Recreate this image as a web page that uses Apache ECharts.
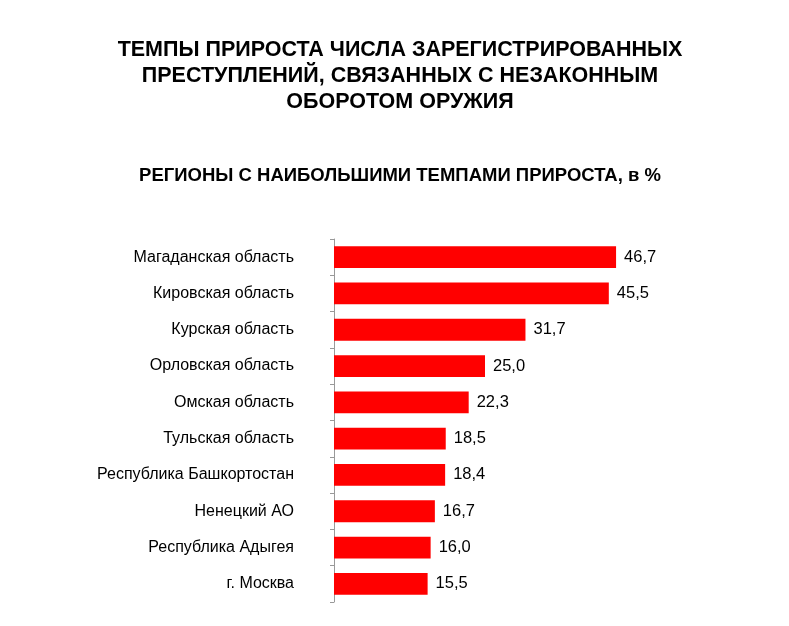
<!DOCTYPE html>
<html><head><meta charset="utf-8">
<script src="https://cdn.jsdelivr.net/npm/echarts@6/dist/echarts.min.js"></script>
<style>html,body{margin:0;padding:0;background:#fff}#c{width:789px;height:626px}</style>
</head><body><div id="c"></div>
<script>
var categories = ["Магаданская область","Кировская область","Курская область","Орловская область","Омская область","Тульская область","Республика Башкортостан","Ненецкий АО","Республика Адыгея","г. Москва"];
var values = [46.7,45.5,31.7,25.0,22.3,18.5,18.4,16.7,16.0,15.5];
var chart = echarts.init(document.getElementById('c'));
chart.setOption({
  animation:false,
  backgroundColor:'#fff',
  title:[{
    text:'ТЕМПЫ ПРИРОСТА ЧИСЛА ЗАРЕГИСТРИРОВАННЫХ\nПРЕСТУПЛЕНИЙ, СВЯЗАННЫХ С НЕЗАКОННЫМ\nОБОРОТОМ ОРУЖИЯ',
    left:395, top:32, textAlign:'center',
    textStyle:{fontFamily:'Liberation Sans',fontSize:21.5,fontWeight:'bold',color:'#000',lineHeight:26}
  },{
    text:'РЕГИОНЫ С НАИБОЛЬШИМИ ТЕМПАМИ ПРИРОСТА, в %',
    left:395, top:161, textAlign:'center',
    textStyle:{fontFamily:'Liberation Sans',fontSize:18.5,fontWeight:'bold',color:'#000',lineHeight:20}
  }],
  grid:{left:334,top:239,width:302,height:363,containLabel:false},
  xAxis:{type:'value',min:0,max:50,show:false},
  yAxis:{type:'category',data:categories,inverse:true,
    axisLine:{show:true,lineStyle:{color:'#999',width:1}},
    axisTick:{show:true,length:4,lineStyle:{color:'#999'}},
    axisLabel:{margin:40,fontFamily:'Liberation Sans',fontSize:16,color:'#000'},
    splitLine:{show:false}
  },
  series:[{type:'bar',data:values,barWidth:'60%',
    itemStyle:{color:'#FF0000'},
    label:{show:true,position:'right',distance:8,fontFamily:'Liberation Sans',fontSize:16.5,color:'#000',
      formatter:function(p){return p.value.toFixed(1).replace('.',',');}}
  }]
});
</script></body></html>
